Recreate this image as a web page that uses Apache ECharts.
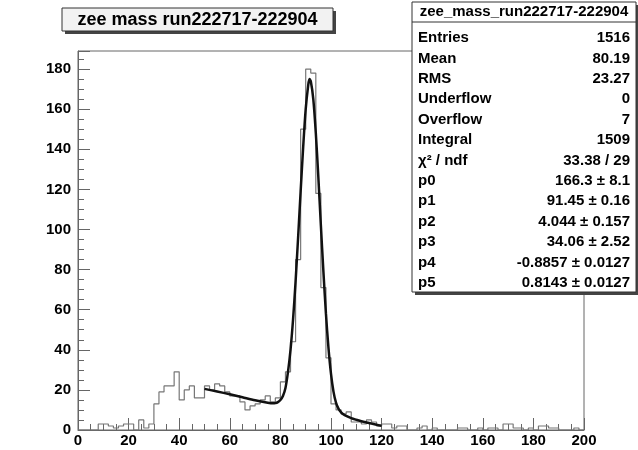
<!DOCTYPE html>
<html>
<head>
<meta charset="utf-8">
<script src="https://cdn.jsdelivr.net/npm/echarts@6/dist/echarts.min.js"></script>
<style>
  html, body { margin: 0; padding: 0; background: #fff; }
  #chart { width: 638px; height: 450px; }
</style>
</head>
<body>
<div id="chart"></div>
<script>
// Histogram of the Z->ee invariant mass, 100 bins of 2 GeV from 0 to 200
const histTitle = 'zee mass run222717-222904';
const statsTitle = 'zee_mass_run222717-222904';
const binWidth = 2;
const counts = [
  0, 0, 0, 0, 3, 3, 2, 1, 2, 3,
  3, 0, 5, 1, 3, 13, 19, 22, 22, 29,
  15, 20, 22, 16, 16, 22, 20, 23, 22, 19,
  17, 17, 14, 10, 12, 13, 15, 17, 14, 16,
  24, 29, 44, 85, 150, 180, 178, 118, 71, 36,
  13, 10, 8, 9, 4, 4, 3, 5, 4, 2,
  3, 3, 1, 2, 2, 0, 0, 1, 2, 0,
  1, 0, 0, 0, 0, 1, 1, 0, 0, 1,
  0, 1, 1, 0, 3, 3, 1, 1, 0, 1,
  0, 2, 2, 1, 1, 0, 0, 0, 1, 0
];

// Fitted curve (peak + background), sampled along the fit range 50-120
const fitX = [50, 55, 60, 65, 70, 75, 77, 78, 79, 80, 81, 82, 83, 84, 85, 86, 87, 88, 89, 90,
              91, 91.5, 92, 93, 94, 95, 96, 97, 98, 99, 100, 101, 102, 103, 104, 105, 106, 108, 110,
              112, 115, 118, 120];
const fitY = [20.5, 19.2, 17.8, 16.3, 14.8, 13.6, 13.3, 13.4, 13.9, 15, 17, 21, 29, 40, 55, 74, 96, 119, 141, 160,
              172, 175, 174, 165, 148, 126, 102, 79, 58, 41, 28, 19, 13.5, 10.5, 8.8, 7.7, 7, 5.9, 5.1,
              4.4, 3.5, 2.6, 2.1];

// Statistics box rows
const statNames = ['Entries', 'Mean', 'RMS', 'Underflow', 'Overflow', 'Integral',
                   'χ² / ndf', 'p0', 'p1', 'p2', 'p3', 'p4', 'p5'];
const statValues = ['1516', '80.19', '23.27', '0', '7', '1509',
                    '33.38 / 29', '166.3 ± 8.1', '91.45 ± 0.16', '4.044 ± 0.157',
                    '34.06 ± 2.52', '-0.8857 ± 0.0127', '0.8143 ± 0.0127'];

// Tick labels
const xTicks = [0, 20, 40, 60, 80, 100, 120, 140, 160, 180, 200];
const yTicks = [0, 20, 40, 60, 80, 100, 120, 140, 160, 180];

// Outline of the histogram as a step path along bin edges
const histPath = [];
histPath.push([0, 0]);
counts.forEach((c, i) => {
  histPath.push([i * binWidth, c]);
  histPath.push([(i + 1) * binWidth, c]);
});
histPath.push([counts.length * binWidth, 0]);

const fitData = fitX.map((x, i) => [x, fitY[i]]);

const FONT = '"Liberation Sans", Arial, Helvetica, sans-serif';

const grid = { left: 78, top: 51, width: 506, height: 379 };

// Stats box geometry
const sb = { x: 412, y: 2, w: 224, h: 290, rowTop: 38, rowStep: 20.4 };

const graphics = [];
// Title box with drop shadow
graphics.push({ type: 'rect', shape: { x: 65, y: 11, width: 271, height: 23 },
  style: { fill: '#444' }, silent: true, z: 10 });
graphics.push({ type: 'rect', shape: { x: 62, y: 8, width: 271, height: 23 },
  style: { fill: '#f2f2f2', stroke: '#333', lineWidth: 1 }, silent: true, z: 11 });
graphics.push({ type: 'text', x: 197.5, y: 20, z: 12,
  style: { text: histTitle, fill: '#000', font: 'bold 18px ' + FONT,
           textAlign: 'center', textVerticalAlign: 'middle' } });

// Stats box with drop shadow
graphics.push({ type: 'rect', shape: { x: sb.x + 3, y: sb.y + 3, width: sb.w, height: sb.h },
  style: { fill: '#444' }, silent: true, z: 10 });
graphics.push({ type: 'rect', shape: { x: sb.x, y: sb.y, width: sb.w, height: sb.h },
  style: { fill: '#fff', stroke: '#333', lineWidth: 1 }, silent: true, z: 11 });
graphics.push({ type: 'line', shape: { x1: sb.x, y1: 22, x2: sb.x + sb.w, y2: 22 },
  style: { stroke: '#333', lineWidth: 1 }, z: 12 });
graphics.push({ type: 'text', x: sb.x + sb.w / 2, y: 12, z: 12,
  style: { text: statsTitle, fill: '#000', font: 'bold 15px ' + FONT,
           textAlign: 'center', textVerticalAlign: 'middle' } });
statNames.forEach((name, i) => {
  const y = sb.rowTop + i * sb.rowStep;
  graphics.push({ type: 'text', x: sb.x + 6, y: y, z: 12,
    style: { text: name, fill: '#000', font: 'bold 15px ' + FONT,
             textAlign: 'left', textVerticalAlign: 'middle' } });
  graphics.push({ type: 'text', x: sb.x + sb.w - 6, y: y, z: 12,
    style: { text: statValues[i], fill: '#000', font: 'bold 15px ' + FONT,
             textAlign: 'right', textVerticalAlign: 'middle' } });
});

const chart = echarts.init(document.getElementById('chart'), null, { renderer: 'canvas' });
chart.setOption({
  animation: false,
  backgroundColor: '#fff',
  grid: Object.assign({ show: true, borderColor: '#666', borderWidth: 1, backgroundColor: '#fff' }, grid),
  xAxis: {
    type: 'value', min: 0, max: 200, interval: 20,
    axisLine: { show: true, lineStyle: { color: '#666', width: 1 } },
    axisTick: { show: true, inside: true, length: 12, lineStyle: { color: '#666' } },
    minorTick: { show: true, splitNumber: 4, length: 6, lineStyle: { color: '#666' } },
    splitLine: { show: false },
    axisLabel: {
      margin: 3, color: '#000', fontSize: 15, fontWeight: 'bold', fontFamily: FONT,
      formatter: v => (xTicks.indexOf(v) >= 0 ? String(v) : '')
    }
  },
  yAxis: {
    type: 'value', min: 0, max: 189, interval: 20,
    axisLine: { show: true, lineStyle: { color: '#666', width: 1 } },
    axisTick: { show: true, inside: true, length: 12, lineStyle: { color: '#666' } },
    minorTick: { show: true, splitNumber: 4, length: 6, lineStyle: { color: '#666' } },
    splitLine: { show: false },
    axisLabel: {
      margin: 7, color: '#000', fontSize: 15, fontWeight: 'bold', fontFamily: FONT,
      showMaxLabel: false,
      formatter: v => (yTicks.indexOf(v) >= 0 ? String(v) : '')
    }
  },
  series: [
    {
      name: 'histogram', type: 'line', data: histPath,
      showSymbol: false, symbol: 'none',
      lineStyle: { color: '#777', width: 1.2 },
      z: 2
    },
    {
      name: 'fit', type: 'line', data: fitData, smooth: 0.3,
      showSymbol: false, symbol: 'none',
      lineStyle: { color: '#111', width: 2.5 },
      z: 3
    }
  ],
  graphic: graphics
});
</script>
</body>
</html>
